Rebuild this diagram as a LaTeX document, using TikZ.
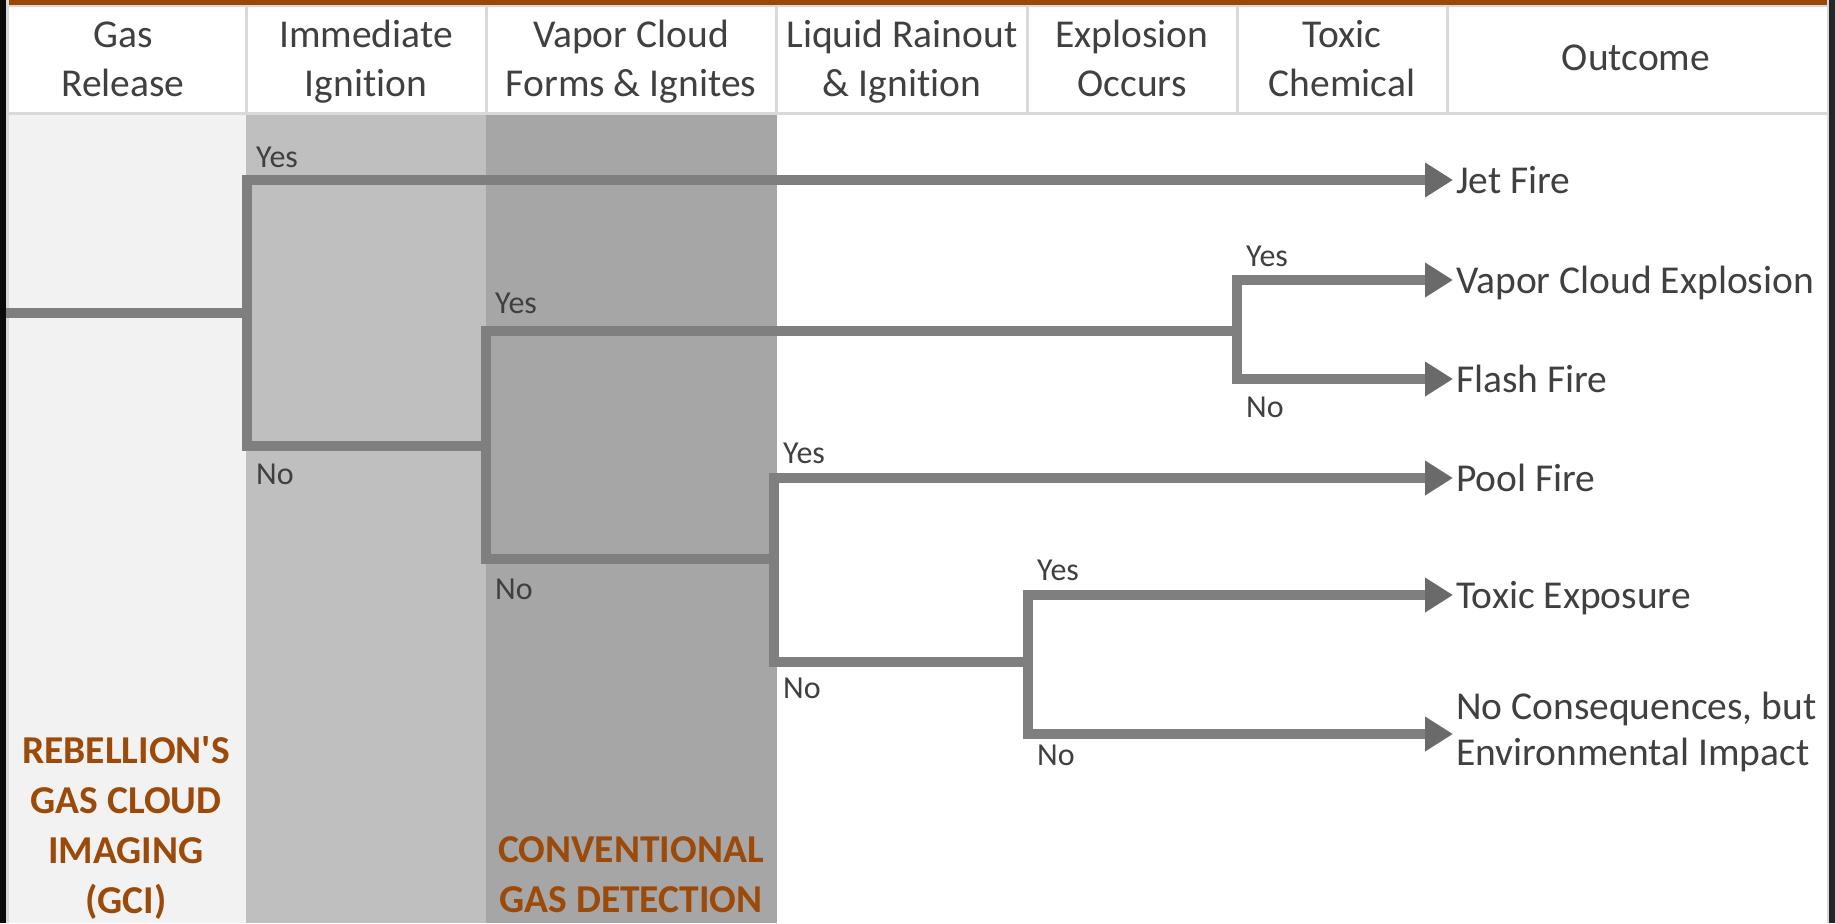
\documentclass[tikz,border=0pt]{standalone}
\usepackage{fontspec}
\setmainfont{Carlito}[Ligatures=NoCommon]
\usetikzlibrary{arrows.meta}
\definecolor{brownbar}{RGB}{153,72,6}
\definecolor{orangetxt}{RGB}{156,74,10}
\definecolor{txtgray}{RGB}{64,64,64}
\definecolor{linegray}{RGB}{127,127,127}
\definecolor{arrowgray}{RGB}{106,106,106}
\definecolor{colA}{RGB}{242,242,242}
\definecolor{colB}{RGB}{191,191,191}
\definecolor{colC}{RGB}{166,166,166}
\definecolor{divgray}{RGB}{217,217,217}
\definecolor{frameblack}{RGB}{10,10,10}
\definecolor{framedark}{RGB}{38,38,38}
\tikzset{
  hdr/.style={text=txtgray, font=\fontsize{39.5}{49}\selectfont, align=center, inner sep=0pt, anchor=base},
  outc/.style={text=txtgray, font=\fontsize{39.5}{46}\selectfont, align=left, inner sep=0pt, anchor=base west},
  yn/.style={text=txtgray, font=\fontsize{32}{38}\selectfont, inner sep=0pt, anchor=base west},
  org/.style={text=orangetxt, font=\fontsize{39.5}{50}\selectfont\bfseries, align=center, inner sep=0pt, anchor=base},
  br/.style={draw=linegray, line width=10pt, line join=miter, line cap=butt},
  tip/.tip={Triangle[length=28pt, width=33pt, color=arrowgray]},
}
\begin{document}
\begin{tikzpicture}[x=1pt,y=-1pt]
\useasboundingbox (0,0) rectangle (1835,923);
% background
\fill[white] (0,0) rectangle (1835,923);
% body columns
\fill[colA] (9,115) rectangle (246,923);
\fill[colB] (246,115) rectangle (486,923);
\fill[colC] (486,115) rectangle (777,923);
% header
\fill[brownbar] (9,0) rectangle (1827,5);
\fill[divgray] (9,5) rectangle (1827,7);
\fill[divgray] (9,112) rectangle (1827,115);
\foreach \xx in {246,486,776,1027,1237,1447}
  \fill[divgray] (\xx-1.5,7) rectangle (\xx+1.5,112);
% frame edges
\fill[frameblack] (0,0) rectangle (6,923);
\fill[divgray] (6,0) rectangle (9,923);
\fill[divgray] (1827,0) rectangle (1829,923);
\fill[framedark] (1829,0) rectangle (1835,923);

% header texts (base = last line's baseline)
\node[hdr] (h1) at (123,97) {Gas\\Release};
\node[hdr] (h2) at (366,97) {Immediate\\Ignition};
\node[hdr] (h3) at (631,97) {Vapor Cloud\\Forms \& Ignites};
\node[hdr] (h4) at (902,97) {Liquid Rainout\\\& Ignition};
\node[hdr] (h5) at (1132,97) {Explosion\\Occurs};
\node[hdr] (h6) at (1342,97) {Toxic\\Chemical};
\node[hdr] (h7) at (1636,71) {Outcome};

% bottom labels
\node[org] (gci) at (126,913) {REBELLION\textquotesingle S\\GAS CLOUD\\IMAGING\\(GCI)};
\node[org] (conv) at (631,912) {CONVENTIONAL\\GAS DETECTION};

% junction coordinates
\coordinate (s0) at (6,313);
\coordinate (A) at (247,313);
\coordinate (Ay) at (247,180);
\coordinate (An) at (247,446);
\coordinate (B) at (486,446);
\coordinate (By) at (486,331);
\coordinate (Bn) at (486,559);
\coordinate (C) at (774,559);
\coordinate (Cy) at (774,478);
\coordinate (Cn) at (774,662);
\coordinate (D) at (1237,331);
\coordinate (Dy) at (1237,280);
\coordinate (Dn) at (1237,379);
\coordinate (E) at (1028,662);
\coordinate (Ey) at (1028,595);
\coordinate (En) at (1028,734);
\coordinate (tJet) at (1453,180);
\coordinate (tVce) at (1453,280);
\coordinate (tFlash) at (1453,379);
\coordinate (tPool) at (1453,478);
\coordinate (tTox) at (1453,595);
\coordinate (tNone) at (1453,734);

% tree
\draw[br] (s0) -- (A);
\draw[br, tip-] (tJet) -- (Ay) -- (An) -- (B);
\draw[br] (D) -- (By) -- (Bn) -- (C);
\draw[br, tip-tip] (tVce) -- (Dy) -- (Dn) -- (tFlash);
\draw[br, tip-] (tPool) -- (Cy) -- (Cn) -- (E);
\draw[br, tip-tip] (tTox) -- (Ey) -- (En) -- (tNone);

% yes / no labels
\node[yn] (yA) at (256,167) {Yes};
\node[yn] (nA) at (256,484) {No};
\node[yn] (yB) at (495,313) {Yes};
\node[yn] (nB) at (495,599) {No};
\node[yn] (yC) at (783,463) {Yes};
\node[yn] (nC) at (783,698) {No};
\node[yn] (yD) at (1246,266) {Yes};
\node[yn] (nD) at (1246,417) {No};
\node[yn] (yE) at (1037,580) {Yes};
\node[yn] (nE) at (1037,765) {No};

% outcomes
\node[outc] (oJet) at (1456,193) {Jet Fire};
\node[outc] (oVce) at (1456,293) {Vapor Cloud Explosion};
\node[outc] (oFlash) at (1456,392) {Flash Fire};
\node[outc] (oPool) at (1456,491) {Pool Fire};
\node[outc] (oTox) at (1456,608) {Toxic Exposure};
\node[outc] (oNone) at (1456,765) {No Consequences, but\\Environmental Impact};
\end{tikzpicture}
\end{document}
